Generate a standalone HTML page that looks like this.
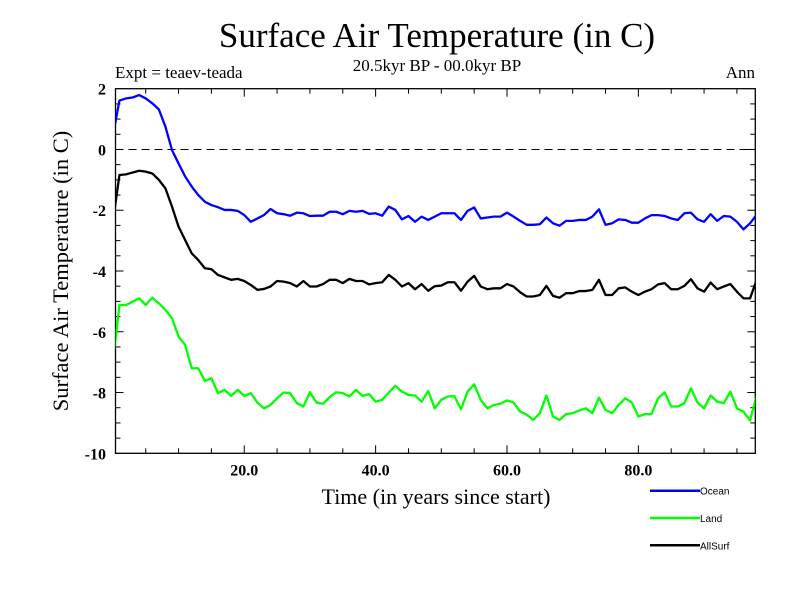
<!DOCTYPE html>
<html><head><meta charset="utf-8"><style>
html,body{margin:0;padding:0;background:#fff;}
svg{display:block;font-family:"Liberation Serif",serif;}
</style></head><body>
<svg id="chart" width="800" height="600" viewBox="0 0 800 600">
<rect width="800" height="600" fill="#fff"/>
<text x="437" y="47" font-size="35" text-anchor="middle">Surface Air Temperature (in C)</text>
<text x="437" y="71" font-size="17" text-anchor="middle">20.5kyr BP - 00.0kyr BP</text>
<text x="115" y="78" font-size="17">Expt = teaev-teada</text>
<text x="755" y="78" font-size="17" text-anchor="end">Ann</text>
<text transform="translate(68,271) rotate(-90)" font-size="22.5" text-anchor="middle">Surface Air Temperature (in C)</text>
<text x="436" y="504" font-size="22" text-anchor="middle">Time (in years since start)</text>
<defs><clipPath id="clip"><rect x="115.5" y="88.7" width="639.8" height="364.6"/></clipPath></defs>
<g id="axes"></g>
<g id="series" clip-path="url(#clip)"></g>
<g id="legend"></g>
</svg>
<script>
const ocean = [0.45,1.61,1.68,1.71,1.79,1.68,1.52,1.32,0.75,-0.02,-0.46,-0.89,-1.22,-1.50,-1.72,-1.83,-1.90,-1.99,-1.99,-2.02,-2.16,-2.38,-2.27,-2.16,-1.96,-2.10,-2.13,-2.18,-2.08,-2.10,-2.19,-2.18,-2.18,-2.05,-2.05,-2.13,-2.02,-2.05,-2.02,-2.12,-2.10,-2.18,-1.88,-1.99,-2.30,-2.19,-2.38,-2.21,-2.32,-2.21,-2.10,-2.10,-2.10,-2.32,-2.02,-1.91,-2.27,-2.24,-2.21,-2.21,-2.08,-2.21,-2.35,-2.48,-2.48,-2.46,-2.24,-2.43,-2.51,-2.35,-2.35,-2.32,-2.32,-2.21,-1.97,-2.48,-2.43,-2.30,-2.32,-2.41,-2.41,-2.27,-2.16,-2.16,-2.19,-2.27,-2.32,-2.10,-2.08,-2.30,-2.38,-2.13,-2.35,-2.19,-2.21,-2.38,-2.63,-2.43,-2.15];
const land = [-7.04,-5.12,-5.12,-5.01,-4.90,-5.12,-4.88,-5.06,-5.28,-5.55,-6.16,-6.43,-7.20,-7.20,-7.62,-7.53,-8.02,-7.91,-8.11,-7.91,-8.11,-8.02,-8.33,-8.52,-8.41,-8.19,-8.00,-8.02,-8.35,-8.46,-7.99,-8.33,-8.37,-8.15,-7.99,-8.02,-8.13,-7.91,-8.11,-8.05,-8.30,-8.24,-8.00,-7.78,-7.97,-8.08,-8.10,-8.30,-7.95,-8.52,-8.24,-8.13,-8.12,-8.55,-7.97,-7.73,-8.24,-8.52,-8.41,-8.37,-8.26,-8.33,-8.63,-8.73,-8.90,-8.68,-8.10,-8.79,-8.90,-8.71,-8.68,-8.59,-8.52,-8.68,-8.17,-8.57,-8.68,-8.41,-8.19,-8.33,-8.79,-8.71,-8.71,-8.19,-8.00,-8.46,-8.46,-8.35,-7.86,-8.33,-8.52,-8.10,-8.30,-8.35,-7.97,-8.52,-8.63,-8.92,-8.10];
const allSurf = [-2.39,-0.84,-0.82,-0.76,-0.70,-0.73,-0.79,-1.00,-1.28,-1.88,-2.54,-2.98,-3.42,-3.64,-3.91,-3.94,-4.13,-4.21,-4.29,-4.26,-4.33,-4.46,-4.62,-4.59,-4.51,-4.33,-4.35,-4.40,-4.51,-4.33,-4.51,-4.51,-4.43,-4.29,-4.29,-4.40,-4.26,-4.33,-4.33,-4.44,-4.40,-4.37,-4.13,-4.29,-4.51,-4.40,-4.60,-4.43,-4.65,-4.50,-4.48,-4.37,-4.37,-4.65,-4.35,-4.16,-4.51,-4.60,-4.57,-4.57,-4.43,-4.51,-4.70,-4.84,-4.84,-4.79,-4.49,-4.82,-4.88,-4.73,-4.73,-4.66,-4.66,-4.62,-4.29,-4.79,-4.79,-4.57,-4.54,-4.68,-4.79,-4.68,-4.60,-4.44,-4.40,-4.60,-4.60,-4.49,-4.27,-4.57,-4.68,-4.38,-4.60,-4.51,-4.43,-4.68,-4.90,-4.90,-4.30];
const xTicks = [20, 40, 60, 80];
const xTickLabels = ["20.0", "40.0", "60.0", "80.0"];
const yTicks = [2, 0, -2, -4, -6, -8, -10];
const yTickLabels = ["2", "0", "-2", "-4", "-6", "-8", "-10"];
const seriesNames = ["Ocean", "Land", "AllSurf"];

const NS = "http://www.w3.org/2000/svg";
const L = 115.5, R = 755.3, T = 88.7, B = 453.3;
const xMin = 0.4, xMax = 97.8, yMin = -10, yMax = 2;
const xs = v => L + (v - xMin) / (xMax - xMin) * (R - L);
const ys = v => B - (v - yMin) / (yMax - yMin) * (B - T);
function mk(tag, attrs, parent) {
  const e = document.createElementNS(NS, tag);
  for (const k in attrs) e.setAttribute(k, attrs[k]);
  parent.appendChild(e);
  return e;
}
const axes = document.getElementById('axes');
const frame = mk('rect', {x: L, y: T, width: R - L, height: B - T, fill: 'none', stroke: '#000', 'stroke-width': 1.3}, axes);


const zero = mk('line', {x1: L, x2: R, y1: ys(0), y2: ys(0), stroke: '#000', 'stroke-width': 1, 'stroke-dasharray': '8,5'}, axes);


for (let v = 5; v < xMax; v += 5) {
  const len = (v % 20 === 0) ? 8 : 5;
  const x = xs(v);
  const t1 = mk('line', {x1: x, x2: x, y1: B, y2: B - len, stroke: '#000', 'stroke-width': 1}, axes);
  
  
  const t2 = mk('line', {x1: x, x2: x, y1: T, y2: T + len, stroke: '#000', 'stroke-width': 1}, axes);
  
  
}
for (let v = yMin + 0.5; v < yMax; v += 0.5) {
  const len = (Math.abs(v % 2) < 1e-6) ? 8 : 5;
  const y = ys(v);
  const t1 = mk('line', {x1: L, x2: L + len, y1: y, y2: y, stroke: '#000', 'stroke-width': 1}, axes);
  
  
  const t2 = mk('line', {x1: R, x2: R - len, y1: y, y2: y, stroke: '#000', 'stroke-width': 1}, axes);
  
  
}
xTicks.forEach((v, i) => {
  const t = mk('text', {x: xs(v), y: B + 22, 'font-size': 16, 'font-weight': 'bold', 'text-anchor': 'middle'}, axes);
  t.textContent = xTickLabels[i];
  
  
});
yTicks.forEach((v, i) => {
  const t = mk('text', {x: 106, y: ys(v) + 6, 'font-size': 16, 'font-weight': 'bold', 'text-anchor': 'end'}, axes);
  t.textContent = yTickLabels[i];
  
  
});
const colors = ['#0000ff', '#00ff00', '#000000'];
const data = [ocean, land, allSurf];
const sg = document.getElementById('series');
data.forEach((arr, si) => {
  const d = arr.map((v, i) => (i ? 'L' : 'M') + xs(i).toFixed(2) + ',' + ys(v).toFixed(2)).join('');
  const p = mk('path', {d: d, fill: 'none', stroke: colors[si], 'stroke-width': 2.3, 'stroke-linejoin': 'round'}, sg);
  
  
});
const lg = document.getElementById('legend');
seriesNames.forEach((n, i) => {
  const y = 490.7 + i * 27.3;
  const l = mk('line', {x1: 650, x2: 700, y1: y, y2: y, stroke: colors[i], 'stroke-width': 2.5}, lg);
  
  
  const t = mk('text', {x: 700, y: y + 4, 'font-size': 10, 'font-family': '"Liberation Sans", sans-serif'}, lg);
  t.textContent = n;
  
  
});
</script>
</body></html>
